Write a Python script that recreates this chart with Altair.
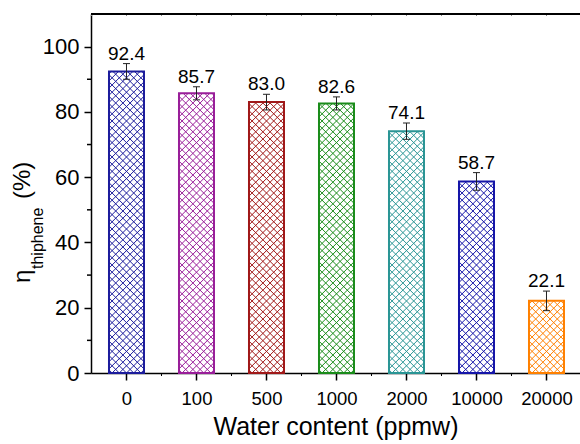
import json
import math

import altair as alt
import pandas as pd

# ---- data -------------------------------------------------------------
water_content = ["0", "100", "500", "1000", "2000", "10000", "20000"]
efficiency = [92.4, 85.7, 83.0, 82.6, 74.1, 58.7, 22.1]
error = [2.4, 2.0, 2.4, 2.0, 2.5, 2.7, 3.0]
bar_colors = ["#1c1c9c", "#991e99", "#a01818", "#1a8c1a", "#2a9595", "#1515a8", "#ff8000"]
y_major = [0, 20, 40, 60, 80, 100]
y_minor = [10, 30, 50, 70, 90]

# ---- geometry of the plot area ---------------------------------------
FONT = "Liberation Sans"
W, H = 489, 359
X_MIN = -0.507
X_MAX = X_MIN + W / 70.0
Y_MAX = 110
PX_X = W / (X_MAX - X_MIN)      # pixels per category step
PX_Y = H / Y_MAX                # pixels per percent
HALF = 17.5                     # half bar width, px
PITCH = 7.2                     # cross-hatch pitch, px

idx = list(range(len(water_content)))
bars = pd.DataFrame({
    "idx": idx,
    "left": [i - HALF / PX_X for i in idx],
    "right": [i + HALF / PX_X for i in idx],
    "eff": efficiency,
    "lo": [v - e for v, e in zip(efficiency, error)],
    "hi": [v + e for v, e in zip(efficiency, error)],
    "cap_l": [i - 3.5 / PX_X for i in idx],
    "cap_r": [i + 3.5 / PX_X for i in idx],
    "color": bar_colors,
})


def hatch_segments(i, value, color):
    """45-degree cross-hatch lines clipped to one bar."""
    top = value * PX_Y
    segs = []
    for sign in (1, -1):
        k0 = math.ceil(-HALF / PITCH)
        k1 = math.floor((top + HALF) / PITCH)
        for k in range(k0, k1 + 1):
            c = k * PITCH
            y0, y1 = max(0.0, c - HALF), min(top, c + HALF)
            if y1 - y0 < 0.5:
                continue
            x0, x1 = sign * (y0 - c), sign * (y1 - c)
            segs.append({
                "x": i + x0 / PX_X, "x2": i + x1 / PX_X,
                "y": y0 / PX_Y, "y2": y1 / PX_Y, "color": color,
            })
    return segs


hatch = pd.DataFrame([s for i, v, c in zip(idx, efficiency, bar_colors)
                      for s in hatch_segments(i, v, c)])

x_scale = alt.Scale(domain=[X_MIN, X_MAX], nice=False, zero=False)
y_scale = alt.Scale(domain=[0, Y_MAX], nice=False)

label_expr = json.dumps(water_content) + "[round(datum.value)]"

x_axis = alt.Axis(
    values=idx, labelExpr=label_expr, title="Water content (ppmw)",
    grid=False, tickSize=7, tickWidth=1.5, domainWidth=1.5, domainColor="black",
    tickColor="black", labelFontSize=18.5, labelFont=FONT, labelColor="black",
    labelPadding=9, titleFontSize=25, titleFont=FONT, titleFontWeight="normal",
    titleColor="black", titlePadding=7,
)
y_axis = alt.Axis(
    values=y_major, title=None, grid=False, tickSize=7, tickWidth=1.5,
    domainWidth=1.5, domainColor="black", tickColor="black", labelFontSize=22,
    labelFont=FONT, labelColor="black", labelPadding=5,
)

hatch_layer = alt.Chart(hatch).mark_rule(strokeWidth=1).encode(
    x=alt.X("x:Q", scale=x_scale, axis=x_axis),
    x2="x2:Q",
    y=alt.Y("y:Q", scale=y_scale, axis=y_axis),
    y2="y2:Q",
    color=alt.Color("color:N", scale=None),
)

base = alt.Chart(bars)

outline = base.mark_rect(fill=None, strokeWidth=2).encode(
    x="left:Q", x2="right:Q", y="eff:Q", y2=alt.datum(0),
    stroke=alt.Color("color:N", scale=None),
)

err_stem = base.mark_rule(color="#222222", strokeWidth=1).encode(
    x="idx:Q", y="lo:Q", y2="hi:Q")
err_cap_hi = base.mark_rule(color="#222222", strokeWidth=1).encode(
    x="cap_l:Q", x2="cap_r:Q", y="hi:Q")
err_cap_lo = base.mark_rule(color="#222222", strokeWidth=1).encode(
    x="cap_l:Q", x2="cap_r:Q", y="lo:Q")

value_labels = base.mark_text(
    font=FONT, fontSize=19, baseline="alphabetic", dy=-4, color="black"
).encode(x="idx:Q", y="hi:Q", text=alt.Text("eff:Q", format=".1f"))

# minor ticks and the top frame line
minor_y = alt.Chart(pd.DataFrame({"v": y_minor})).mark_rule(
    color="black", strokeWidth=1.5
).encode(y="v:Q", x=alt.value(-4), x2=alt.value(0))

minor_x = alt.Chart(pd.DataFrame({"v": [i + 0.5 for i in idx[:-1]]})).mark_rule(
    color="black", strokeWidth=1
).encode(x="v:Q", y=alt.value(H), y2=alt.value(H + 3))

top_ticks = alt.Chart(pd.DataFrame({"v": [i * 0.5 for i in range(-1, 14)]})).mark_rule(
    color="#888888", strokeWidth=1
).encode(x="v:Q", y=alt.value(0), y2=alt.value(2))

top_frame = alt.Chart(pd.DataFrame({"v": [0]})).mark_rule(
    color="black", strokeWidth=2
).encode(x=alt.value(0), x2=alt.value(W), y=alt.value(0))

# y-axis title: eta with subscript "thiphene", then (%)
title_parts = pd.DataFrame({
    "t": ["η", "thiphene", "(%)"],
    "size": [24, 16, 24],
    "px": [-61, -48, -61],
    "py": [269, 255, 185],
})
y_title = alt.layer(*[
    alt.Chart(title_parts.iloc[[k]]).mark_text(
        font=FONT, angle=270, align="left", baseline="alphabetic",
        fontSize=int(title_parts["size"][k]), color="black",
    ).encode(text="t:N", x=alt.value(int(title_parts["px"][k])),
             y=alt.value(int(title_parts["py"][k])))
    for k in range(len(title_parts))
])

chart = alt.layer(
    hatch_layer, outline, err_stem, err_cap_hi, err_cap_lo, value_labels,
    minor_y, minor_x, top_ticks, top_frame, y_title,
).properties(
    width=W, height=H,
    autosize=alt.AutoSizeParams(type="none"),
    padding={"left": 91, "top": 14, "right": 0, "bottom": 71},
    background="white",
).configure_view(strokeWidth=0)

chart.save("out.html", embed_options={"renderer": "svg", "actions": False})
